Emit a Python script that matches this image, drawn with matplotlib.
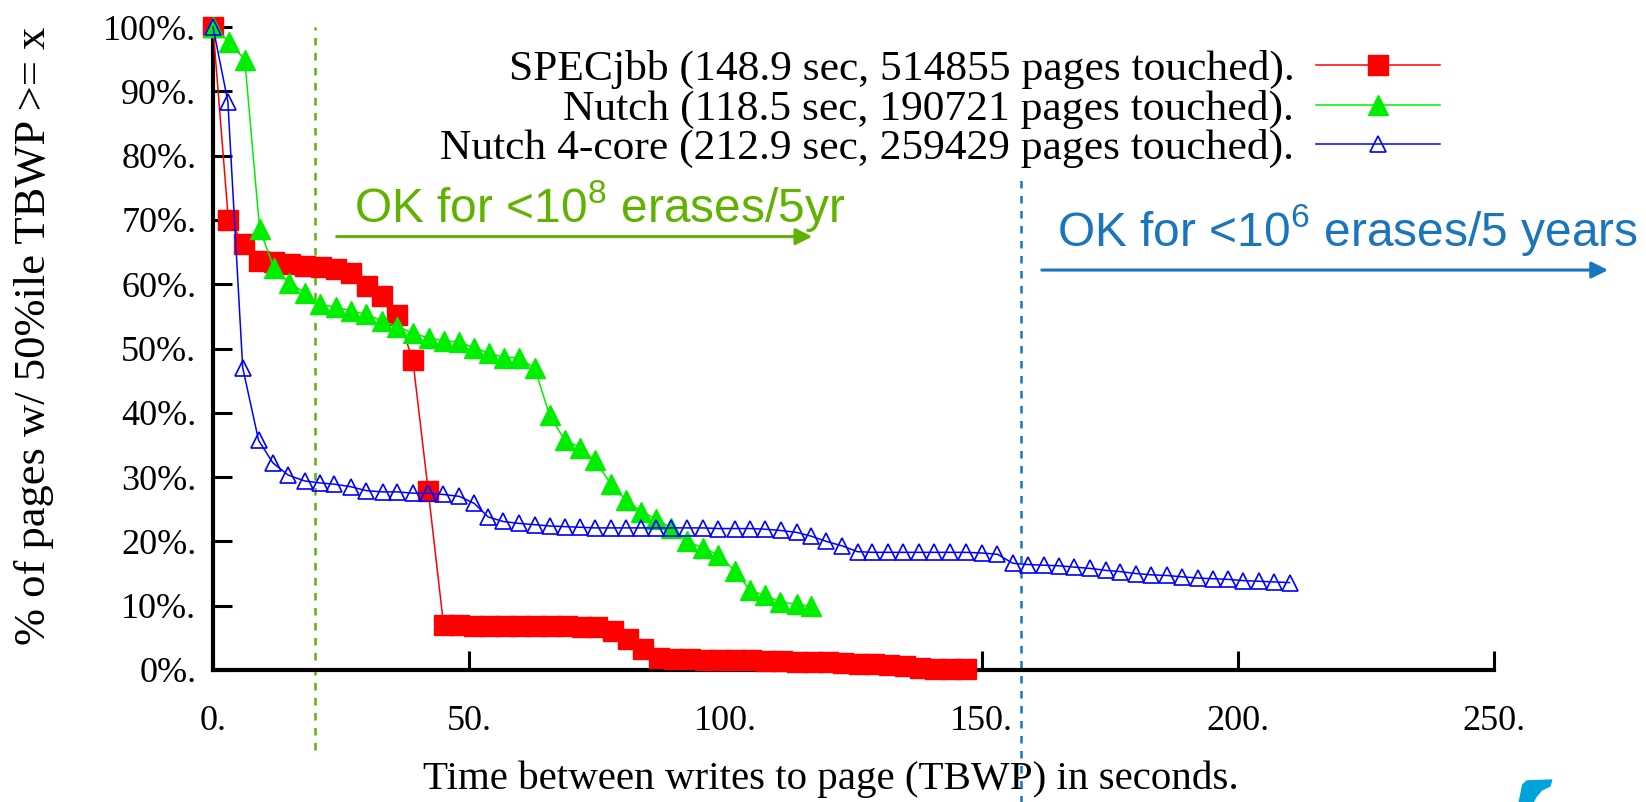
import matplotlib.pyplot as plt
from matplotlib.patches import Polygon

plt.rcParams['font.family'] = ['Liberation Serif', 'DejaVu Serif']
plt.rcParams['mathtext.fontset'] = 'custom'
plt.rcParams['mathtext.rm'] = 'Liberation Sans'

# SPECjbb (red filled squares)
spec_x = [0, 3, 6, 9, 12, 15, 18, 21, 24, 27, 30, 33, 36, 39, 42, 45, 48, 51, 54, 57,
          60, 63, 66, 69, 72, 75, 78, 81, 84, 87, 90, 93, 96, 99, 102, 105, 108, 111,
          114, 117, 120, 123, 126, 129, 132, 135, 138, 141, 144, 147]
spec_y = [100, 70, 66.3, 63.6, 63.4, 63.2, 62.9, 62.6, 62.3, 61.8, 59.7, 58.2, 55.2, 48.2,
          27.9, 7.0, 6.95, 6.9, 6.9, 6.85, 6.85, 6.8, 6.8, 6.8, 6.75, 6.7, 6.1, 4.8, 3.3,
          1.9, 1.7, 1.7, 1.6, 1.6, 1.5, 1.5, 1.4, 1.4, 1.3, 1.3, 1.2, 1.1, 1.0, 0.9, 0.8,
          0.6, 0.3, 0.2, 0.15, 0.1]

# Nutch (green filled triangles)
nutch_x = [0, 3.2, 6.2, 9.1, 11.9, 14.9, 17.9, 20.8, 24.0, 26.9, 29.9, 33.0, 36.0, 39.0,
           42.2, 45.1, 48.1, 51.0, 53.9, 56.7, 59.7, 62.8, 65.7, 68.6, 71.6, 74.5, 77.7,
           80.6, 83.6, 86.5, 89.4, 92.5, 95.6, 98.6, 101.9, 104.8, 107.7, 110.7, 113.9, 116.8]
nutch_y = [100, 97.7, 94.9, 68.6, 62.5, 60.2, 58.7, 56.9, 56.4, 55.9, 55.3, 54.3, 53.4, 52.4,
           51.6, 51.2, 51.0, 50.1, 49.3, 48.6, 48.6, 46.9, 39.6, 35.8, 34.6, 32.6, 28.9,
           26.4, 24.6, 23.5, 22.1, 20.0, 19.0, 17.9, 15.4, 12.4, 11.6, 10.6, 10.2, 9.9]

# Nutch 4-core (blue open triangles)
n4_x = [0, 2.9, 5.8, 8.9, 11.7, 14.7, 17.9, 20.8, 23.7, 26.9, 29.9, 33.1, 36.0, 39.0, 41.9,
        44.9, 48.1, 51.0, 53.7, 56.6, 59.7, 62.8, 65.7, 68.6, 71.6, 74.5, 77.7, 80.6, 83.6,
        86.5, 89.4, 92.5, 95.6, 98.6, 101.9, 104.8, 107.7, 110.8, 113.9, 116.8, 119.7, 122.8,
        125.8, 128.7, 131.7, 134.7, 137.7, 140.7, 143.8, 147.0, 150.0, 153.1, 156.1, 159.1,
        162.1, 165.2, 168.1, 171.2, 174.2, 177.1, 180.1, 183.1, 186.1, 189.1, 192.2, 195.1,
        198.0, 201.1, 204.1, 207.0, 210.1]
n4_y = [100, 88.4, 47.0, 35.7, 32.2, 30.3, 29.4, 29.1, 28.9, 28.5, 27.9, 27.7, 27.7, 27.5, 27.5,
        27.3, 27.0, 25.9, 23.8, 23.1, 22.8, 22.6, 22.4, 22.3, 22.2, 22.1, 22.1, 22.1, 22.1,
        22.1, 22.1, 22.1, 22.1, 22.0, 22.0, 22.0, 21.9, 21.7, 21.4, 20.8, 20.0, 19.3,
        18.4, 18.3, 18.3, 18.3, 18.3, 18.3, 18.3, 18.3, 18.2, 18.0, 16.6, 16.4,
        16.3, 16.2, 16.0, 15.8, 15.5, 15.3, 15.0, 14.8, 14.7, 14.5, 14.3, 14.2,
        14.1, 13.9, 13.8, 13.7, 13.6]

labels = ['SPECjbb (148.9 sec, 514855 pages touched).',
          'Nutch (118.5 sec, 190721 pages touched).',
          'Nutch 4-core (212.9 sec, 259429 pages touched).']

x_ticks = [0, 50, 100, 150, 200, 250]
y_ticks = [0, 10, 20, 30, 40, 50, 60, 70, 80, 90, 100]

green = '#5fb300'
blue = '#1b75bc'

fig = plt.figure(figsize=(16.46, 8.02), dpi=100)
ax = fig.add_axes([213 / 1646, 132 / 802, 1281 / 1646, 643 / 802])

ax.plot(spec_x, spec_y, color='red', lw=1.1, marker='s', ms=15, mec='red',
        label=labels[0], clip_on=False, zorder=3)
ax.plot(nutch_x, nutch_y, color='#00ee00', lw=1.1, marker='^', ms=14.5, mec='#00ee00',
        label=labels[1], clip_on=False, zorder=4)
ax.plot(n4_x, n4_y, color='blue', lw=1.1, marker='^', ms=11.5, mfc='none', mec='blue',
        mew=1.2, label=labels[2], clip_on=False, zorder=5)

ax.set_xlim(0, 250)
ax.set_ylim(0, 100)
ax.set_xticks(x_ticks)
ax.set_xticklabels([f'{t}.' for t in x_ticks])
ax.set_yticks(y_ticks)
ax.set_yticklabels([f'{t}%.' for t in y_ticks])
for s in ['top', 'right']:
    ax.spines[s].set_visible(False)
for s in ['left', 'bottom']:
    ax.spines[s].set_linewidth(3)
ax.tick_params(axis='both', direction='in', length=14, width=2.2, labelsize=26)
ax.tick_params(axis='y', pad=12)
ax.tick_params(axis='x', pad=25)

ax.set_ylabel('% of pages w/ 50%ile TBWP >= x', fontsize=32, va='center')
ax.yaxis.set_label_coords(-0.14, 0.52)
ax.set_xlabel('Time between writes to page (TBWP) in seconds.', fontsize=29.5, va='center')
ax.xaxis.set_label_coords(0.482, -0.17)

# threshold lines
ax.axvline(20, ymin=-0.124, ymax=1.0, color=green, lw=1.8, ls=(0, (3, 3)), clip_on=False)
ax.axvline(157.6, ymin=-0.21, ymax=0.766, color=blue, lw=1.8, ls=(0, (3, 3)), clip_on=False)

ax.text(27.5, 72.1, r'OK for <10$^8$ erases/5yr', family='Liberation Sans', fontsize=34.5,
        color=green, va='center', ha='left', clip_on=False)
ax.annotate('', xy=(117.5, 67.4), xytext=(23.6, 67.4), annotation_clip=False,
            arrowprops=dict(arrowstyle='-|>', color=green, lw=2.2, mutation_scale=25))
ax.text(164.7, 68.4, r'OK for <10$^6$ erases/5 years', family='Liberation Sans', fontsize=34.5,
        color=blue, va='center', ha='left', clip_on=False)
ax.annotate('', xy=(272.8, 62.2), xytext=(161.2, 62.2), annotation_clip=False,
            arrowprops=dict(arrowstyle='-|>', color=blue, lw=2.2, mutation_scale=25))

ax.legend(loc='upper right', bbox_to_anchor=(1440 / 1646, 1 - 50 / 802),
          bbox_transform=fig.transFigure, frameon=False, markerfirst=False,
          fontsize=31.3, borderpad=0, borderaxespad=0, handlelength=2.85,
          handletextpad=0.5, labelspacing=0.0)

# corner of the logo at the bottom right
logo = [(1519.3, 802), (1522.7, 785), (1526.7, 781), (1551.7, 780), (1550, 786),
        (1541.7, 790), (1536, 796.7), (1533.3, 802)]
fig.patches.append(Polygon([(x / 1646, 1 - y / 802) for x, y in logo], closed=True,
                           transform=fig.transFigure, color='#00a3d9', figure=fig))

fig.savefig('out.png', dpi=100)
